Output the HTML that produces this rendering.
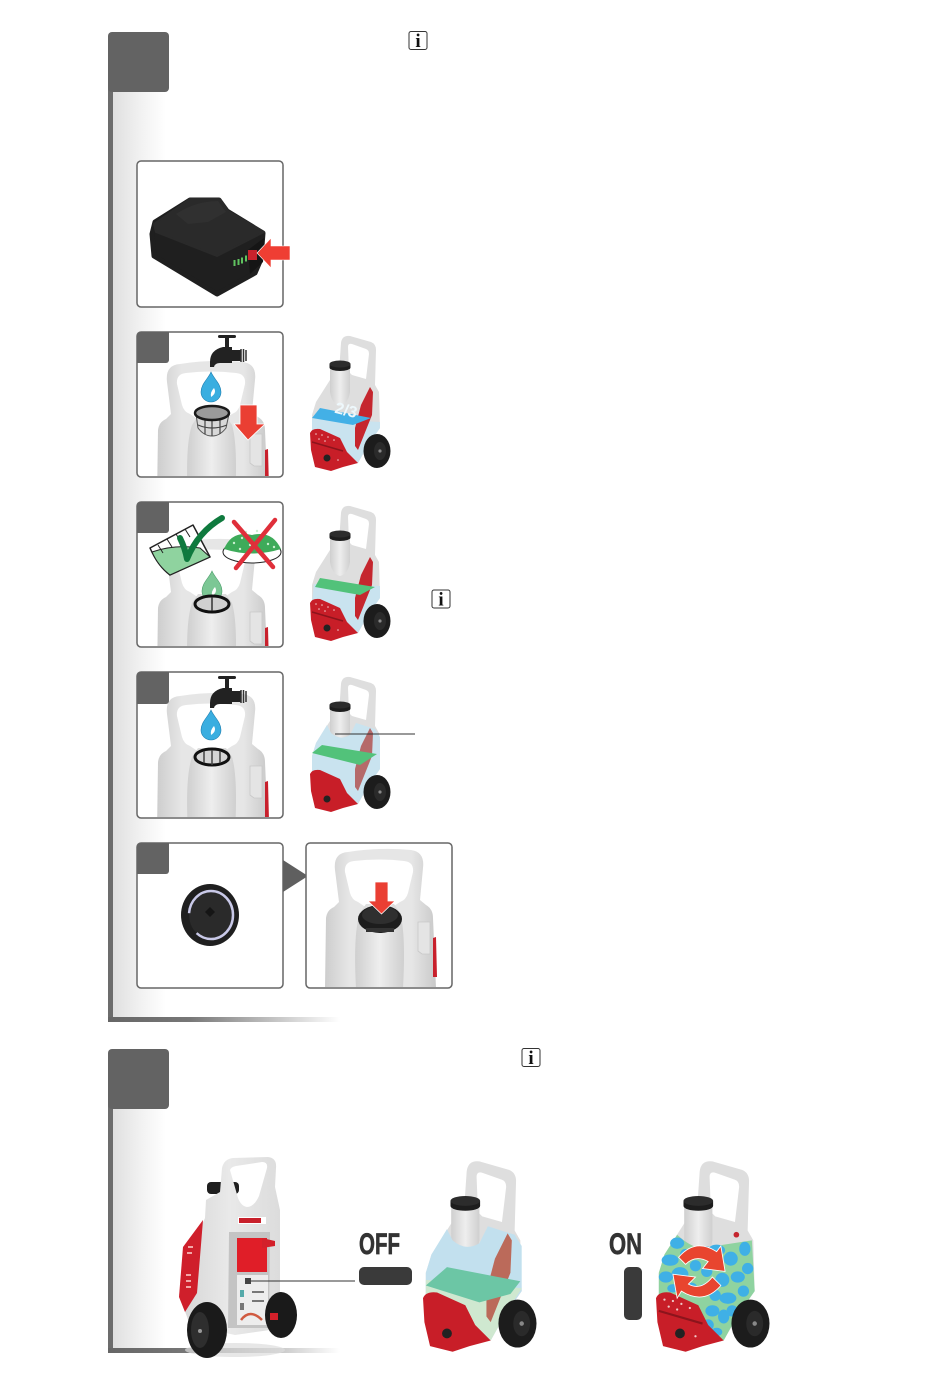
<!DOCTYPE html>
<html><head><meta charset="utf-8"><style>
html,body{margin:0;padding:0;background:#fff}
svg{display:block}
text{font-family:"Liberation Sans",sans-serif}
</style></head><body>
<svg width="950" height="1378" viewBox="0 0 950 1378" xmlns="http://www.w3.org/2000/svg">
<defs>
<linearGradient id="side" x1="0" x2="1" y1="0" y2="0"><stop offset="0" stop-color="#dcdcdc"/><stop offset=".55" stop-color="#f1f1f1"/><stop offset="1" stop-color="#fff"/></linearGradient>
<linearGradient id="bar" x1="0" x2="1" y1="0" y2="0"><stop offset="0" stop-color="#666"/><stop offset=".35" stop-color="#777"/><stop offset="1" stop-color="#fff"/></linearGradient>
<linearGradient id="body" x1="0" x2="1" y1="0" y2="0"><stop offset="0" stop-color="#cdcdcd"/><stop offset=".22" stop-color="#e6e6e6"/><stop offset=".78" stop-color="#e6e6e6"/><stop offset="1" stop-color="#c9c9c9"/></linearGradient>
<linearGradient id="neck" x1="0" x2="1" y1="0" y2="0"><stop offset="0" stop-color="#cfcfcf"/><stop offset=".5" stop-color="#eeeeee"/><stop offset="1" stop-color="#cfcfcf"/></linearGradient>
<linearGradient id="bigbody" x1="0" x2="1" y1="0" y2="0"><stop offset="0" stop-color="#d5d5d5"/><stop offset=".5" stop-color="#e9e9e9"/><stop offset="1" stop-color="#dcdcdc"/></linearGradient>
<clipPath id="c1"><rect x="138" y="333" width="144" height="143" rx="3"/></clipPath>
<clipPath id="c2"><rect x="138" y="503" width="144" height="143" rx="3"/></clipPath>
<clipPath id="c3"><rect x="138" y="673" width="144" height="144" rx="3"/></clipPath>
<clipPath id="c6"><rect x="307" y="844" width="144" height="143" rx="3"/></clipPath>

<g id="front">
<path fill-rule="evenodd" d="M157 500 L158 430 Q159 422 166 419 L171 414 L167 382 Q165 365 180 364 Q211 359 243 362 Q257 364 255 380 L252 412 L258 417 Q265 421 265 430 L268 500 Z
M177 384 Q176 374 186 373 Q211 370 236 373 Q246 374 245 384 L240 405 Q238 412 232 414 L226 418 L196 418 L190 414 Q184 412 182 405 Z" fill="url(#body)"/>
<path d="M188 500 Q185 445 192 425 L198 416 H226 L232 425 Q238 445 235 500 Z" fill="url(#neck)"/>
<path d="M250 434 h12 v32 h-8 l-4 -3z" fill="#e4e4e4" stroke="#c8c8c8" stroke-width=".8"/>
<path d="M265 450 l3 -1 1 40 h-4z" fill="#c8202c"/>
</g>

<g id="faucet" fill="#222">
<rect x="218" y="335" width="18" height="3" rx="1.500"/><rect x="225" y="337" width="4" height="10"/>
<path d="M210 367 v-5 q0 -12 13 -15 h9 v3 h9 v11 h-9 v2 h-12 q-5 0 -6 4 z"/>
<path d="M241 349 v13 M243.500 349 v13 M246 350 v11" stroke="#333" stroke-width="1.500"/>
</g>
<path id="drop" d="M0 -16 C3 -9 10 -4 10 4 A10 10 0 0 1 -10 4 C-10 -4 -3 -9 0 -16Z"/>

<g id="tank">
<path fill-rule="evenodd" d="M339 372 L341 343 Q342 335 350 336 L371 342 Q376 344 376 350 L375 385 L379 392 L380 428 L368 445 L358 463 L340 462 L312 432 L312 415 L316 402 L330 380 Z
M348 347 Q348 343 352 344 L366 349 Q369 350 369 354 L366 379 L352 375 L349 372Z" fill="#dedede"/>
<path d="M330 366 h20 v26 q-2 12 -10 14 q-8 -2 -10 -14z" fill="url(#neck)"/>
</g>
<path id="rpanel" d="M370 387 L373 392 L372 415 L358 450 L355 446 L355 428 L361 405Z"/>
<g id="tankred">
<path d="M310 433 Q312 428 320 429 L340 438 L347 452 L358 463 L343 467 L331 471 L315 467 L311 450Z" fill="#c81e28"/>
<path d="M312 442 L343 451" stroke="#8c141c" stroke-width="1.500"/>
<circle cx="327" cy="458" r="3.500" fill="#222"/>
<g fill="#f0c8c8"><circle cx="316" cy="434" r=".8"/><circle cx="322" cy="435" r=".8"/><circle cx="328" cy="437" r=".8"/><circle cx="334" cy="440" r=".8"/><circle cx="319" cy="439" r=".8"/><circle cx="325" cy="441" r=".8"/><circle cx="338" cy="460" r=".8"/></g>
</g>
<g id="wheel">
<ellipse cx="377" cy="451" rx="13.500" ry="17" fill="#1c1c1c"/>
<ellipse cx="380" cy="451" rx="6" ry="9" fill="#2a2a2a"/>
<circle cx="380" cy="451" r="1.600" fill="#888"/>
</g>
<g id="tcap">
<ellipse cx="340" cy="367.500" rx="10.500" ry="3.500" fill="#1d1d1d"/>
<rect x="329.500" y="364" width="21" height="3.500" fill="#1d1d1d"/>
<ellipse cx="340" cy="364" rx="10.500" ry="3.500" fill="#2c2c2c"/>
</g>
<g id="info">
<rect x=".5" y=".5" width="18" height="18" rx="2" fill="#fff" stroke="#333" stroke-width="1"/>
<text x="9.500" y="16" text-anchor="middle" style="font-family:'Liberation Serif',serif;font-weight:bold;font-size:19px" fill="#111">i</text>
</g>
</defs>

<!-- sections -->
<rect x="108" y="92" width="58" height="928" fill="url(#side)"/>
<rect x="108" y="40" width="5" height="980" fill="#6c6c6c"/>
<rect x="108" y="1017" width="232" height="5" fill="url(#bar)"/>
<rect x="108" y="32" width="61" height="60" rx="4" fill="#636363"/>

<rect x="108" y="1109" width="58" height="240" fill="url(#side)"/>
<rect x="108" y="1057" width="5" height="296" fill="#6c6c6c"/>
<rect x="108" y="1348" width="232" height="5" fill="url(#bar)"/>
<rect x="108" y="1049" width="61" height="60" rx="4" fill="#636363"/>

<use href="#info" x="408.500" y="31"/>
<use href="#info" x="431.500" y="589.500"/>
<use href="#info" x="521.500" y="1048"/>

<!-- panel battery -->
<rect x="137" y="161" width="146" height="146" rx="4" fill="#fff" stroke="#666" stroke-width="1.500"/>
<path d="M155 222 L190 200 L219 200 L227 211 L263 233 L261 259 L255 273 L228 288 L217 294 L154 256 L152 234Z" fill="#1f1f1f" stroke="#1f1f1f" stroke-width="5" stroke-linejoin="round"/>
<path d="M154 224 L190 199 L220 199 L228 211 L264 232 L217 256 L156 232Z" fill="#2a2a2a" stroke="#2a2a2a" stroke-width="2" stroke-linejoin="round"/>
<path d="M176 214 Q196 201 218 201 L226 212 L208 222 L188 224Z" fill="#303030"/>
<path d="M264 238 L263 262 L250 274 L248 250Z" fill="#151515"/>
<g fill="#5fc35f"><rect x="233.500" y="260" width="2" height="6"/><rect x="237.500" y="259" width="2" height="6"/><rect x="241" y="257.500" width="2" height="6"/><rect x="245" y="255.500" width="2" height="6"/></g>
<rect x="248" y="250" width="9" height="10" fill="#c8222c"/>
<path d="M257 253 L271 238 V246 H290 V260 H271 V268Z" fill="#ef3e33" stroke="#fff" stroke-width=".6"/>

<!-- panel 1 -->
<rect x="137" y="332" width="146" height="145" rx="4" fill="#fff" stroke="#666" stroke-width="1.500"/>
<g clip-path="url(#c1)">
<use href="#front"/>
<use href="#faucet"/>
<use href="#drop" x="211" y="388" fill="#3aaee0" stroke="#1f7fb0" stroke-width=".6"/>
<path d="M214 388 q3 5 -3 9 q-1 -5 3 -9z" fill="#fff"/>
<path d="M196 414 L198 428 Q204 436 212 436 Q220 436 226 428 L229 414Z" fill="#d8d8d8" stroke="#555" stroke-width="1"/>
<path d="M205 417 V434 M212 418 V436 M220 417 V434 M198 425 Q212 431 227 425" stroke="#444" stroke-width="1.200" fill="none"/>
<ellipse cx="212" cy="413" rx="17" ry="7" fill="#9a9a9a" stroke="#1a1a1a" stroke-width="2.500"/>
<path d="M240 405 H257 V424 H265 L248 440 L234 424 H240Z" fill="#ea3f33" stroke="#fff" stroke-width=".8"/>
</g>
<path d="M137 336 a4 4 0 0 1 4 -4 H169 V360 a3 3 0 0 1 -3 3 H137Z" fill="#636363"/>

<!-- panel 2 -->
<rect x="137" y="502" width="146" height="145" rx="4" fill="#fff" stroke="#666" stroke-width="1.500"/>
<g clip-path="url(#c2)">
<use href="#front" y="178"/>
<path d="M150 548 L193 525 L210 557 L170 575Q158 566 150 548Z" fill="#fff" stroke="#222" stroke-width="1.500" stroke-linejoin="round"/>
<path d="M152 552 Q175 544 200 548 L210 557 L170 575Q158 566 152 552Z" fill="#8fd39f" stroke="#222" stroke-width="1"/>
<path d="M158 545 l5 8 M167 539 l5 8 M176 534 l5 8 M185 529 l5 8" stroke="#222" stroke-width="1"/>
<path d="M180 538 Q185 548 187 559 Q198 532 222 518" fill="none" stroke="#0f7a3e" stroke-width="6" stroke-linecap="round" stroke-linejoin="round"/>
<ellipse cx="252" cy="552" rx="29" ry="11" fill="#fff" stroke="#222" stroke-width="1"/>
<path d="M224 549 Q232 530 252 535 Q272 530 281 549 Q252 558 224 549Z" fill="#3eab5a"/>
<g fill="#c9efd0"><circle cx="234" cy="543" r="1.200"/><circle cx="242" cy="538" r="1.200"/><circle cx="250" cy="545" r="1.200"/><circle cx="260" cy="539" r="1.200"/><circle cx="268" cy="544" r="1.200"/><circle cx="274" cy="547" r="1.200"/><circle cx="240" cy="549" r="1.200"/><circle cx="246" cy="532" r="1.200"/><circle cx="257" cy="531" r="1.200"/></g>
<path d="M234 522 L273 567 M275 520 L236 568" stroke="#df2f3a" stroke-width="4.500" stroke-linecap="round"/>
<use href="#drop" x="212" y="587" fill="#7cc795" stroke="#4d9e6c" stroke-width=".6"/>
<path d="M215 587 q3 5 -3 9 q-1 -5 3 -9z" fill="#fff"/>
<ellipse cx="212" cy="604" rx="17" ry="8" fill="#d0d0d0" stroke="#111" stroke-width="3"/>
<path d="M212 597 V611" stroke="#333" stroke-width="1.500"/>
</g>
<path d="M137 506 a4 4 0 0 1 4 -4 H169 V530 a3 3 0 0 1 -3 3 H137Z" fill="#636363"/>

<!-- panel 3 -->
<rect x="137" y="672" width="146" height="146" rx="4" fill="#fff" stroke="#666" stroke-width="1.500"/>
<g clip-path="url(#c3)">
<use href="#front" y="332"/>
<use href="#faucet" y="341"/>
<use href="#drop" x="211" y="726" fill="#3aaee0" stroke="#1f7fb0" stroke-width=".6"/>
<path d="M214 726 q3 5 -3 9 q-1 -5 3 -9z" fill="#fff"/>
<ellipse cx="212" cy="757" rx="17" ry="8" fill="#d5d5d5" stroke="#111" stroke-width="3"/>
<path d="M212 750 V765 M204 751 V763 M220 751 V763" stroke="#444" stroke-width="1.500"/>
</g>
<path d="M137 676 a4 4 0 0 1 4 -4 H169 V701 a3 3 0 0 1 -3 3 H137Z" fill="#636363"/>

<!-- panel 4 -->
<rect x="137" y="843" width="146" height="145" rx="4" fill="#fff" stroke="#666" stroke-width="1.500"/>
<ellipse cx="210" cy="915" rx="29" ry="31" fill="#1f1f1f"/>
<ellipse cx="211" cy="915" rx="22" ry="24" fill="#2a2a2a" stroke="#c9c9e8" stroke-width="2.500" stroke-dasharray="52 22 71 0"/>
<path d="M205 912 l5 -5 5 5 -5 5z" fill="#151515"/>
<path d="M137 847 a4 4 0 0 1 4 -4 H169 V871 a3 3 0 0 1 -3 3 H137Z" fill="#636363"/>
<path d="M283 860 L308 876 L283 892Z" fill="#5f5f5f"/>

<!-- panel 5 -->
<rect x="306" y="843" width="146" height="145" rx="4" fill="#fff" stroke="#666" stroke-width="1.500"/>
<g clip-path="url(#c6)">
<use href="#front" x="168" y="488"/>
<ellipse cx="380" cy="919" rx="22" ry="14" fill="#1d1d1d"/>
<ellipse cx="380" cy="915" rx="18" ry="9" fill="#2f2f2f"/>
<rect x="366" y="928" width="28" height="4" fill="#333"/>
</g>
<path d="M375 882 H388 V901 H395 L381.500 914 L368 901 H375Z" fill="#ea3f33" stroke="#fff" stroke-width=".8"/>

<!-- row tanks -->
<g>
<use href="#tank"/>
<path d="M312 418 L380 422 L380 428 L368 445 L358 463 L340 462 L312 432Z" fill="#c9e3ef"/>
<use href="#rpanel" fill="#c5262e"/>
<use href="#tankred"/>
<path d="M320 408 L371 418 L353 425 L312 418Z" fill="#43b0e6"/>
<text x="335" y="415" transform="rotate(14 344 410)" style="font-size:16px;font-weight:bold" fill="#eef8fc">2/3</text>
<use href="#wheel"/><use href="#tcap"/>
</g>
<g transform="translate(0 170)">
<use href="#tank"/>
<path d="M314 414 L380 416 L380 428 L368 445 L358 463 L340 462 L312 432Z" fill="#c9e3ef"/>
<use href="#rpanel" fill="#c5262e"/>
<use href="#tankred"/>
<path d="M320 408 L375 417 L360 425 L315 417Z" fill="#52c27a"/>
<use href="#wheel"/><use href="#tcap"/>
</g>
<g transform="translate(0 341)">
<use href="#tank"/>
<path d="M327 384 L331 392 Q340 400 350 394 L356 382 L375 388 L380 396 L380 428 L368 445 L358 463 L340 462 L312 432 L312 415 L316 402Z" fill="#c9e3ef"/>
<use href="#rpanel" fill="#b56a6a"/>
<path d="M310 433 Q312 428 320 429 L340 438 L347 452 L358 463 L343 467 L331 471 L315 467 L311 450Z" fill="#c81e28"/>
<circle cx="327" cy="458" r="3.500" fill="#222"/>
<path d="M322 404 L377 413 L360 424 L312 412Z" fill="#52c27a"/>
<use href="#wheel"/><use href="#tcap"/>
</g>
<line x1="335" y1="734" x2="415" y2="734" stroke="#333" stroke-width="1"/>

<!-- big unit -->
<ellipse cx="235" cy="1350" rx="50" ry="7" fill="#ddd" opacity=".7"/>
<rect x="207" y="1182" width="32" height="12" rx="4" fill="#1f1f1f"/>
<path fill-rule="evenodd" d="M206 1200 L220 1192 L222 1168 Q224 1159 233 1158 L268 1157 Q277 1158 276 1168 L275 1187 L280 1210 L280 1295 L270 1330 L235 1335 L190 1325 L179 1295 L190 1250 L205 1218Z
M230 1170 Q231 1167 236 1166 L262 1162 Q268 1162 267 1168 L259 1196 Q254 1207 247 1207 Q241 1206 238 1198Z" fill="url(#bigbody)"/>
<path d="M203 1220 L183 1247 L179 1297 L185 1312 L197 1293 L200 1257Z" fill="#cf1f2b"/>
<g fill="#f2a8a8"><rect x="188" y="1246" width="5" height="2"/><rect x="187" y="1252" width="5" height="2"/><rect x="186" y="1274" width="5" height="2"/><rect x="186" y="1280" width="5" height="2"/><rect x="186" y="1286" width="5" height="2"/></g>
<rect x="238" y="1217" width="28" height="7" fill="#fff"/><rect x="239" y="1218" width="22" height="5" fill="#c8202b"/>
<path d="M229 1232 H270 L269 1328 H228Z" fill="#c4c4c4"/>
<path d="M237 1238 H267 V1272 H237Z" fill="#e01e28"/>
<path d="M262 1238 L275 1241 V1246 L262 1248Z" fill="#d3202a"/>
<rect x="237" y="1275" width="31" height="50" fill="#ededed"/>
<g fill="#777"><rect x="252" y="1291" width="12" height="2"/><rect x="240" y="1290" width="4" height="7" fill="#5aa"/><rect x="252" y="1300" width="12" height="2"/><rect x="240" y="1303" width="4" height="7"/></g>
<path d="M241 1320 Q250 1308 262 1320" fill="none" stroke="#d05a40" stroke-width="2.500"/>
<ellipse cx="281" cy="1315" rx="16" ry="23" fill="#1a1a1a"/>
<rect x="270" y="1313" width="8" height="7" fill="#d3202a"/>
<ellipse cx="207" cy="1330" rx="20" ry="28" fill="#1a1a1a"/>
<ellipse cx="200" cy="1330" rx="9" ry="18" fill="#2e2e2e"/>
<circle cx="200" cy="1331" r="2" fill="#999"/>
<line x1="248" y1="1281" x2="355" y2="1281" stroke="#333" stroke-width="1"/>
<rect x="245" y="1278" width="6" height="6" fill="#444"/>

<!-- OFF -->
<text x="359" y="1254" textLength="41" lengthAdjust="spacingAndGlyphs" style="font-size:30px;font-weight:bold" fill="#333" stroke="#333" stroke-width=".7">OFF</text>
<rect x="359" y="1267" width="53" height="18" rx="5" fill="#3a3a3a"/>
<g transform="translate(423 1160) scale(1.41) translate(-310 -335)">
<use href="#tank"/>
<path d="M327 384 L331 392 Q340 400 350 394 L356 382 L375 388 L380 396 L380 428 L368 445 L358 463 L340 462 L312 432 L312 415 L316 402Z" fill="#c2e0ee"/>
<path d="M312 420 L380 426 L368 445 L358 463 L340 462 L312 432Z" fill="#cfe8d0"/>
<use href="#rpanel" fill="#bb6a5a"/>
<path d="M310 433 Q312 428 320 429 L340 438 L347 452 L358 463 L343 467 L331 471 L315 467 L311 450Z" fill="#c81e28"/>
<circle cx="327" cy="458" r="3.500" fill="#222"/>
<path d="M327 411 L379 421 L372 430 L350 436 L312 424Z" fill="#6cc6a5"/>
<use href="#wheel"/><use href="#tcap"/>
</g>

<!-- ON -->
<text x="609" y="1254" textLength="33" lengthAdjust="spacingAndGlyphs" style="font-size:30px;font-weight:bold" fill="#333" stroke="#333" stroke-width=".7">ON</text>
<rect x="624" y="1267" width="18" height="53" rx="5" fill="#3a3a3a"/>
<g transform="translate(656 1160) scale(1.41) translate(-310 -335)">
<use href="#tank"/>
<path d="M325 388 Q340 402 352 396 L378 392 L380 428 L368 445 L358 463 L340 462 L312 432 L312 415 L316 402Z" fill="#8fd3a0"/>
<g fill="#3fb0e6">
<ellipse cx="325" cy="394" rx="5" ry="4"/><ellipse cx="320" cy="406" rx="6" ry="4"/><ellipse cx="331" cy="402" rx="4" ry="4"/><ellipse cx="317" cy="418" rx="5" ry="4"/><ellipse cx="327" cy="416" rx="6" ry="5"/><ellipse cx="338" cy="410" rx="4" ry="4"/><ellipse cx="345" cy="400" rx="5" ry="4"/><ellipse cx="353" cy="399" rx="6" ry="4"/><ellipse cx="363" cy="405" rx="5" ry="5"/><ellipse cx="373" cy="398" rx="4" ry="5"/><ellipse cx="375" cy="412" rx="4" ry="4"/><ellipse cx="368" cy="418" rx="5" ry="4"/><ellipse cx="357" cy="420" rx="5" ry="5"/><ellipse cx="346" cy="414" rx="4" ry="4"/><ellipse cx="344" cy="427" rx="4" ry="4"/><ellipse cx="352" cy="431" rx="4" ry="4"/><ellipse cx="361" cy="433" rx="6" ry="4"/><ellipse cx="372" cy="428" rx="4" ry="4"/><ellipse cx="364" cy="442" rx="4" ry="4"/><ellipse cx="350" cy="442" rx="5" ry="4"/><ellipse cx="358" cy="446" rx="4" ry="5"/><ellipse cx="347" cy="452" rx="4" ry="4"/><ellipse cx="353" cy="457" rx="4" ry="3"/><ellipse cx="335" cy="425" rx="4" ry="3"/><ellipse cx="322" cy="426" rx="4" ry="3"/>
</g>
<circle cx="367" cy="388" r="2" fill="#c5262e"/>
<use href="#tankred"/>
<use href="#wheel"/><use href="#tcap"/>
<path d="M326 404 Q338 390 353 400 L356 396 L359 414 L343 412 L347 407 Q338 402 331 409Z" fill="#e8452f" stroke="#fff" stroke-width=".6"/>
<path d="M356 424 Q344 438 328 428 L325 433 L322 416 L338 418 L333 423 Q342 428 350 418Z" fill="#e8452f" stroke="#fff" stroke-width=".6"/>
</g>
</svg>
</body></html>
